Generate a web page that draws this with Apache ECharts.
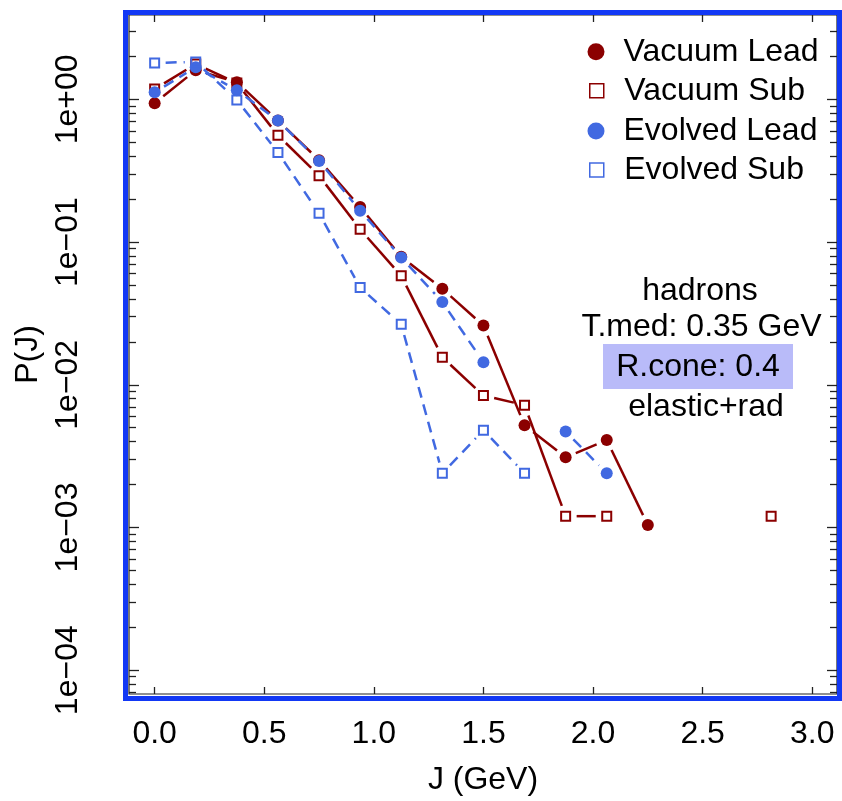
<!DOCTYPE html>
<html><head><meta charset="utf-8">
<script src="https://cdn.jsdelivr.net/npm/echarts@6/dist/echarts.min.js"></script>
<style>html,body{margin:0;padding:0;background:#fff}#c{width:842px;height:801px}</style>
</head><body><div id="c"></div>
<script>
// ---- data ----
const J = [0, 0.1875, 0.375, 0.5625, 0.75, 0.9375, 1.125, 1.3125, 1.5, 1.6875, 1.875, 2.0625, 2.25, 2.4375, 2.625, 2.8125];
const vacuumLead  = [0.94, 1.60, 1.32, 0.71, 0.375, 0.176, 0.079, 0.047, 0.026, 0.0052, 0.0031, 0.0041, 0.00104, null, null, null];
const vacuumSub   = [1.18, 1.77, 1.30, 0.56, 0.292, 0.123, 0.058, 0.0156, 0.0084, 0.0072, 0.0012, 0.0012, null, null, null, 0.0012];
const evolvedLead = [1.12, 1.68, 1.16, 0.71, 0.370, 0.166, 0.078, 0.038, 0.0144, null, 0.0047, 0.0024, null, null, null, null];
const evolvedSub  = [1.80, 1.83, 0.99, 0.425, 0.159, 0.048, 0.0265, 0.0024, 0.0048, 0.0024, null, null, null, null, null, null];
const seriesNames = ['Vacuum Lead', 'Vacuum Sub', 'Evolved Lead', 'Evolved Sub'];
const xTicks = [0, 0.5, 1.0, 1.5, 2.0, 2.5, 3.0];
const yTickExponents = [-4, -3, -2, -1, 0];
const annotLines = ['hadrons', 'T.med: 0.35 GeV', 'R.cone: 0.4', 'elastic+rad'];

// ---- layout / style ----
const xMin = -0.117, xMax = 3.113;
const yMin = 6.81e-5, yMax = 3.9;
const FONT = 'Liberation Sans';
const FS = 32;
const RED = '#8B0000', BLUE = '#4169E1';
const TICKC = '#222';
const GAP = 11;
const lyMin = Math.log10(yMin), lyMax = Math.log10(yMax);
const minorLogs = [];
for (let n = -5; n <= 0; n++) for (let k = 2; k <= 9; k++) {
  const v = Math.log10(k) + n;
  if (v > lyMin && v < lyMax) minorLogs.push(v);
}
function expLabel(e) {
  const r = Math.round(e);
  return '1e' + (r < 0 ? '\u2212' : '+') + String(Math.abs(r)).padStart(2, '0');
}
function pts(vals) {
  const out = [];
  vals.forEach((v, i) => { if (v != null) out.push([J[i], v]); });
  return out;
}
function lineSeries(vals, color, dash) {
  const segs = [];
  for (let i = 0; i < J.length - 1; i++)
    if (vals[i] != null && vals[i + 1] != null) segs.push([J[i], vals[i], J[i + 1], vals[i + 1]]);
  return {
    type: 'custom', silent: true, z: 2, data: segs,
    encode: { x: [0, 2], y: [1, 3] },
    renderItem: function (params, api) {
      const a = api.coord([api.value(0), api.value(1)]);
      const b = api.coord([api.value(2), api.value(3)]);
      const dx = b[0] - a[0], dy = b[1] - a[1], L = Math.hypot(dx, dy);
      if (L <= 2 * GAP) return null;
      const ux = dx / L, uy = dy / L;
      return {
        type: 'line',
        shape: { x1: a[0] + ux * GAP, y1: a[1] + uy * GAP, x2: b[0] - ux * GAP, y2: b[1] - uy * GAP },
        style: { stroke: color, lineWidth: 2.5, lineDash: dash || null }
      };
    }
  };
}
const circleStyle = c => ({ color: c, opacity: 1 });
const squareStyle = c => ({ color: 'rgba(255,255,255,0)', borderColor: c, borderWidth: 2, opacity: 1 });
const txt = { fontFamily: FONT, fontSize: FS, color: '#000' };
const tickLine = { color: TICKC, width: 1.3 };
const SQUARE = 'path://M0,0L10,0L10,10L0,10Z';

function yValueAxis(pos, ticks, len, labels) {
  const ax = {
    type: 'value', position: pos, min: lyMin, max: lyMax,
    axisLine: { show: false, onZero: false }, splitLine: { show: false },
    axisTick: { show: true, inside: true, length: len, customValues: ticks, lineStyle: tickLine },
    axisLabel: { show: false }
  };
  if (labels) {
    ax.axisLabel = Object.assign({ show: true, customValues: ticks, formatter: expLabel, rotate: 90, margin: 45 }, txt);
    ax.name = 'P(J)'; ax.nameLocation = 'middle'; ax.nameGap = 83; ax.nameRotate = 90;
    ax.nameTextStyle = Object.assign({}, txt);
  }
  return ax;
}

const option = {
  animation: false,
  backgroundColor: '#fff',
  grid: { left: 129, right: 5, top: 15, bottom: 107, show: true, borderColor: TICKC, borderWidth: 1.2, backgroundColor: 'transparent', outerBoundsMode: 'none' },
  xAxis: [
    {
      type: 'value', position: 'bottom', min: xMin, max: xMax,
      axisLine: { show: false, onZero: false }, splitLine: { show: false },
      axisTick: { inside: true, length: 7, customValues: xTicks, lineStyle: tickLine },
      axisLabel: Object.assign({ customValues: xTicks, formatter: v => v.toFixed(1), margin: 24 }, txt),
      name: 'J (GeV)', nameLocation: 'middle', nameGap: 70, nameTextStyle: Object.assign({}, txt)
    },
    {
      type: 'value', position: 'top', min: xMin, max: xMax,
      axisLine: { show: false, onZero: false }, splitLine: { show: false },
      axisTick: { inside: true, length: 7, customValues: xTicks, lineStyle: tickLine },
      axisLabel: { show: false }
    }
  ],
  yAxis: [
    { type: 'log', logBase: 10, min: yMin, max: yMax, show: false, axisLine: { onZero: false } },
    yValueAxis('left', yTickExponents, 10, true),
    yValueAxis('right', yTickExponents, 10, false),
    yValueAxis('left', minorLogs, 7, false),
    yValueAxis('right', minorLogs, 7, false)
  ],
  legend: [
    {
      data: [
        { name: seriesNames[0], icon: 'circle', itemStyle: { color: RED, opacity: 1 } },
        { name: seriesNames[2], icon: 'circle', itemStyle: { color: BLUE, opacity: 1 } }
      ],
      orient: 'vertical', left: 587.5, top: 35.7, padding: 0,
      itemWidth: 45, itemHeight: 17, itemGap: 47.3, selectedMode: false,
      textStyle: Object.assign({ lineHeight: 32 }, txt)
    },
    {
      data: [
        { name: seriesNames[1], icon: SQUARE, itemStyle: { color: '#fff', borderColor: RED, borderWidth: 1.5, opacity: 1 } },
        { name: seriesNames[3], icon: SQUARE, itemStyle: { color: '#fff', borderColor: BLUE, borderWidth: 1.5, opacity: 1 } }
      ],
      orient: 'vertical', left: 589, top: 74.7, padding: 0,
      itemWidth: 45, itemHeight: 14, itemGap: 47.3, selectedMode: false,
      textStyle: Object.assign({ lineHeight: 32 }, txt)
    }
  ],
  graphic: [
    { type: 'rect', z: 100, silent: true, shape: { x: 125.5, y: 12.5, width: 714, height: 686 }, style: { fill: 'none', stroke: '#1238f5', lineWidth: 5 } },
    { type: 'rect', z: 1, silent: true, shape: { x: 603, y: 344, width: 190, height: 45 }, style: { fill: '#b9bbf9' } },
    { type: 'text', z: 5, silent: true, style: { text: annotLines[0], x: 700, y: 291, align: 'center', verticalAlign: 'middle', font: FS + 'px "' + FONT + '"', fill: '#000' } },
    { type: 'text', z: 5, silent: true, style: { text: annotLines[1], x: 701.5, y: 327, align: 'center', verticalAlign: 'middle', font: FS + 'px "' + FONT + '"', fill: '#000' } },
    { type: 'text', z: 5, silent: true, style: { text: annotLines[2], x: 698, y: 367, align: 'center', verticalAlign: 'middle', font: FS + 'px "' + FONT + '"', fill: '#000' } },
    { type: 'text', z: 5, silent: true, style: { text: annotLines[3], x: 706, y: 407, align: 'center', verticalAlign: 'middle', font: FS + 'px "' + FONT + '"', fill: '#000' } }
  ],
  series: [
    lineSeries(vacuumLead, RED, null),
    lineSeries(vacuumSub, RED, null),
    lineSeries(evolvedLead, BLUE, [11, 7]),
    lineSeries(evolvedSub, BLUE, [11, 7]),
    { type: 'scatter', name: seriesNames[0], data: pts(vacuumLead), symbol: 'circle', symbolSize: 12, itemStyle: circleStyle(RED), z: 3 },
    { type: 'scatter', name: seriesNames[1], data: pts(vacuumSub), symbol: 'rect', symbolSize: 9, itemStyle: squareStyle(RED), z: 3 },
    { type: 'scatter', name: seriesNames[2], data: pts(evolvedLead), symbol: 'circle', symbolSize: 12, itemStyle: circleStyle(BLUE), z: 3 },
    { type: 'scatter', name: seriesNames[3], data: pts(evolvedSub), symbol: 'rect', symbolSize: 9, itemStyle: squareStyle(BLUE), z: 3 }
  ]
};
const chart = echarts.init(document.getElementById('c'), null, { renderer: 'canvas' });
chart.setOption(option);
</script>
</body></html>
